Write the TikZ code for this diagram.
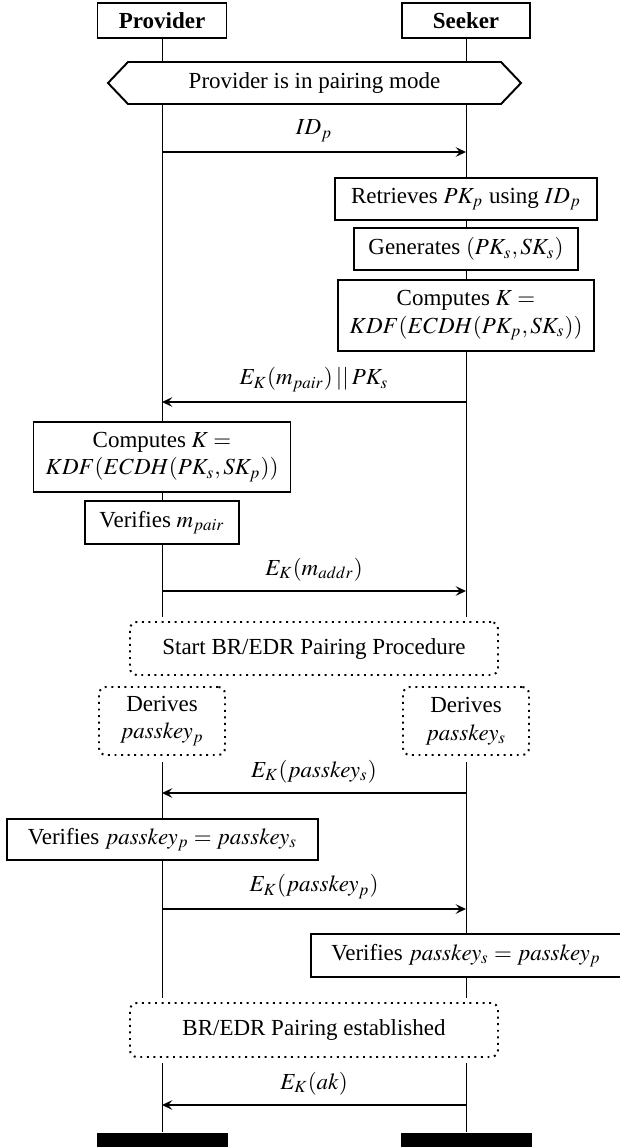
\documentclass[tikz,border=0pt]{standalone}
\usepackage{mathptmx}
\usepackage{fontspec}
\setmainfont{Liberation Serif}
\usetikzlibrary{arrows.meta,backgrounds}
\def\PX{0.435pt}
\begin{document}
\begin{tikzpicture}[x=0.435pt,y=-0.435pt, line width=0.85pt,
  box/.style={draw, fill=white, align=center, inner sep=0pt},
  dbox/.style={draw, dotted, rounded corners=3pt, fill=white, align=center, inner sep=0pt},
  msg/.style={-{Stealth[length=4.5pt,width=4.2pt,inset=1.8pt]}},
  lbl/.style={above=1pt, inner sep=3pt},
  bar/.style={fill=black, draw=none, inner sep=0pt}]
\useasboundingbox (0,0) rectangle (619,1147);

% headers
\node[box, minimum width=129*\PX, minimum height=35*\PX] (prov) at (162,20.5) {\textbf{Provider}};
\node[box, minimum width=128*\PX, minimum height=35*\PX] (seek) at (466,20.5) {\textbf{Seeker}};

% bottom bars
\node[bar, minimum width=131*\PX, minimum height=26*\PX] (barP) at (162,1146) {};
\node[bar, minimum width=131*\PX, minimum height=26*\PX] (barS) at (466,1146) {};

% lifeline break points
\coordinate (pA) at (162,617);
\coordinate (pB) at (162,762);
\coordinate (pC) at (162,998);
\coordinate (pD) at (162,1063);
\coordinate (sA) at (466,617);
\coordinate (sB) at (466,762);
\coordinate (sC) at (466,998);
\coordinate (sD) at (466,1063);

% hexagon
\draw[fill=white] (108,83) -- (128,62) -- (501,62) -- (521,83) -- (501,104) -- (128,104) -- cycle;
\node[align=center] (hex) at (314.5,83) {Provider is in pairing mode};

% message 1
\coordinate (p1) at (162,152);
\coordinate (s1) at (466,152);
\draw[msg] (p1) -- (s1) node[midway, lbl] (l1) {$ID_p$};

\node[box, minimum width=262*\PX, minimum height=42*\PX] (retr) at (466,199) {Retrieves $PK_p$ using $ID_p$};
\node[box, minimum width=224*\PX, minimum height=42*\PX] (gen) at (466,249) {Generates $(PK_s, SK_s)$};
\node[box, minimum width=256*\PX, minimum height=71*\PX] (compS) at (466,315.5) {Computes $K =$\\ $KDF(ECDH(PK_p, SK_s))$};

% message 2
\coordinate (s2) at (466,402);
\coordinate (p2) at (162,402);
\draw[msg] (s2) -- (p2) node[midway, lbl] (l2) {$E_K(m_{pair}) \mathbin{||} PK_s$};

\node[box, minimum width=257*\PX, minimum height=70*\PX] (compP) at (162,457) {Computes $K =$\\ $KDF(ECDH(PK_s, SK_p))$};
\node[box, minimum width=154*\PX, minimum height=43*\PX] (ver) at (162,522.5) {Verifies $m_{pair}$};

% message 3
\coordinate (p3) at (162,591);
\coordinate (s3) at (466,591);
\draw[msg] (p3) -- (s3) node[midway, lbl] (l3) {$E_K(m_{addr})$};

\node[dbox, minimum width=368*\PX, minimum height=53*\PX] (start) at (314,648.5) {Start BR/EDR Pairing Procedure};
\node[dbox, minimum width=126*\PX, minimum height=68*\PX] (derP) at (162,721) {Derives\\ $passkey_p$};
\node[dbox, minimum width=126*\PX, minimum height=68*\PX] (derS) at (466,721) {Derives\\ $passkey_s$};

% message 4
\coordinate (s4) at (466,793);
\coordinate (p4) at (162,793);
\draw[msg] (s4) -- (p4) node[midway, lbl] (l4) {$E_K(passkey_s)$};

\node[box, minimum width=311*\PX, minimum height=41*\PX] (verP) at (162.5,839.5) {Verifies $passkey_p = passkey_s$};

% message 5
\coordinate (p5) at (162,909);
\coordinate (s5) at (466,909);
\draw[msg] (p5) -- (s5) node[midway, lbl] (l5) {$E_K(passkey_p)$};

\node[box, minimum width=310*\PX, minimum height=43*\PX] (verS) at (466,955.5) {Verifies $passkey_s = passkey_p$};

\node[dbox, minimum width=368*\PX, minimum height=54*\PX] (est) at (314,1030) {BR/EDR Pairing established};

% message 6
\coordinate (s6) at (466,1105);
\coordinate (p6) at (162,1105);
\draw[msg] (s6) -- (p6) node[midway, lbl] (l6) {$E_K(ak)$};

% lifelines
\begin{scope}[on background layer]
\draw (prov.south) -- (pA);
\draw (pB) -- (pC);
\draw (pD) -- (barP.north);
\draw (seek.south) -- (sA);
\draw (sB) -- (sC);
\draw (sD) -- (barS.north);
\end{scope}
\end{tikzpicture}
\end{document}
